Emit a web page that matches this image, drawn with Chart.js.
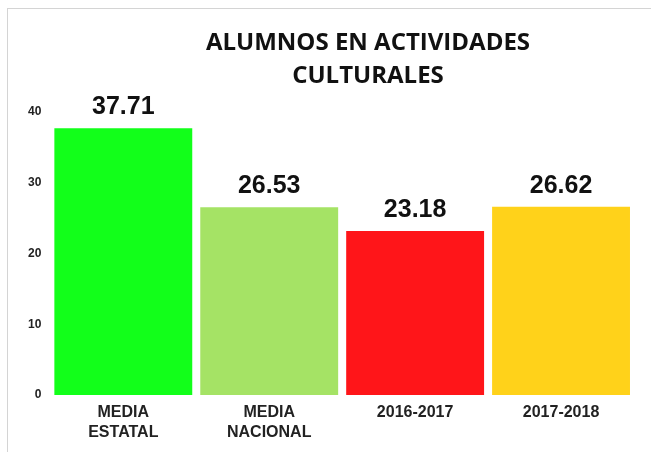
<!DOCTYPE html>
<html>
<head>
<meta charset="utf-8">
<script src="https://cdn.jsdelivr.net/npm/chart.js@4"></script>
<style>
  html,body{margin:0;padding:0;background:#fff;}
  #wrap{position:absolute;left:0;top:0;width:651px;height:452px;}
  #frame{position:absolute;left:7px;top:8px;width:660px;height:460px;border-top:1px solid #d4d4d4;border-left:1px solid #d4d4d4;}
</style>
</head>
<body>
<div id="wrap">
  <div id="frame"></div>
  <canvas id="chart" width="651" height="452"></canvas>
</div>
<script>
let categories = [['MEDIA','ESTATAL'],['MEDIA','NACIONAL'],'2016-2017','2017-2018'];
let values = [37.71, 26.53, 23.18, 26.62];
let barColors = ['#12ff1a','#a5e365','#ff1519','#ffd21a'];
let titleLines = ['ALUMNOS EN ACTIVIDADES','CULTURALES'];

// title drawn by hand so it can sit a little right of center like the original
let titlePlugin = {
    id:'manualTitle',
    afterDraw(chart){
        let c = chart.ctx;
        c.save();
        c.fillStyle = '#111';
        c.font = 'bold 24px "Open Sans"';
        c.textAlign = 'center';
        c.textBaseline = 'middle';
        titleLines.forEach((t,i)=>c.fillText(t, 368, 43 + i*33));
        c.restore();
    }
};

let valuePlugin = {
    id:'valueLabels',
    afterDatasetsDraw(chart){
        let c = chart.ctx;
        let meta = chart.getDatasetMeta(0);
        c.save();
        c.fillStyle = '#111';
        c.font = 'bold 25px Arial';
        c.textAlign = 'center';
        c.textBaseline = 'alphabetic';
        meta.data.forEach((bar,i)=>{
            c.fillText(values[i].toFixed(2), bar.x, bar.y - 14);
        });
        c.restore();
    }
};

let ctx = document.getElementById("chart").getContext("2d");
let chart = new Chart(ctx,{
    type:'bar',
    data:{
        labels:categories,
        datasets:[{
            data:values,
            backgroundColor:barColors,
            borderWidth:0,
            barPercentage:0.945,
            categoryPercentage:1.0,
        }]
    },
    options:{
        animation:false,
        responsive:false,
        layout:{
            padding:{top:112,right:17,left:19,bottom:1}
        },
        plugins:{
            legend:{display:false},
            tooltip:{enabled:false},
        },
        scales:{
            y:{
                min:0,
                max:40,
                grid:{display:false,drawTicks:false},
                border:{display:false},
                ticks:{
                    stepSize:10,
                    color:'#222',
                    padding:9,
                    font:{family:'Arial',size:12,weight:'bold'}
                }
            },
            x:{
                grid:{display:false,drawTicks:false},
                border:{display:false},
                ticks:{
                    color:'#222',
                    padding:8,
                    maxRotation:0,
                    font:{family:'Arial',size:16,weight:'bold',lineHeight:1.25}
                }
            }
        }
    },
    plugins:[titlePlugin,valuePlugin]
});
</script>
</body>
</html>
